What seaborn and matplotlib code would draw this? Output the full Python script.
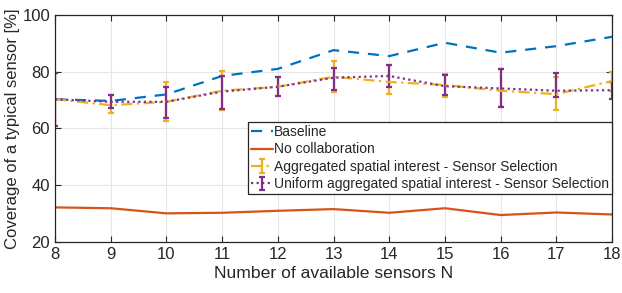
import numpy as np
import pandas as pd
import seaborn as sns
import matplotlib.pyplot as plt

# Data
n_sensors = [8, 9, 10, 11, 12, 13, 14, 15, 16, 17, 18]
baseline = [70.3, 69.7, 72.0, 78.5, 81.0, 87.6, 85.5, 90.2, 86.7, 89.0, 92.3]
no_collab = [32.2, 31.9, 30.1, 30.3, 31.0, 31.6, 30.3, 31.9, 29.5, 30.4, 29.7]

agg_mean = [70.3, 68.2, 69.4, 73.3, 74.7, 78.2, 76.4, 75.3, 73.3, 72.1, 76.7]
agg_low = [60.8, 65.3, 62.7, 66.5, 71.6, 72.9, 72.1, 71.2, 67.4, 66.5, 73.3]
agg_high = [79.4, 71.7, 76.2, 80.3, 78.2, 83.8, 82.3, 79.2, 80.9, 78.0, 80.0]

uni_mean = [70.3, 69.4, 69.4, 73.0, 74.7, 77.9, 78.5, 74.9, 74.1, 73.3, 73.5]
uni_low = [60.8, 67.1, 63.6, 66.7, 71.6, 73.5, 74.5, 71.8, 67.4, 71.2, 70.5]
uni_high = [79.4, 71.7, 74.7, 78.6, 78.2, 81.4, 82.3, 78.8, 80.9, 79.5, 76.2]

labels = ['Baseline', 'No collaboration',
          'Aggregated spatial interest - Sensor Selection',
          'Uniform aggregated spatial interest - Sensor Selection']
colors = ['#0072BD', '#D95319', '#EDB120', '#7E2F8E']

sns.set_style('whitegrid')
plt.rcParams['font.family'] = ['Liberation Sans', 'DejaVu Sans']

fig, ax = plt.subplots(figsize=(6.22, 2.93), dpi=100)
fig.subplots_adjust(left=0.0884, right=0.984, top=0.949, bottom=0.174)

df = pd.DataFrame({'N': n_sensors, 'Baseline': baseline, 'No collaboration': no_collab})
sns.lineplot(data=df, x='N', y='Baseline', ax=ax, color=colors[0], lw=1.6,
             linestyle=(0, (5, 4)), label=labels[0])
sns.lineplot(data=df, x='N', y='No collaboration', ax=ax, color=colors[1], lw=1.6,
             label=labels[1])

# error bars (asymmetric)
for mean, lo, hi, c, ls, lab in [(agg_mean, agg_low, agg_high, colors[2], (0, (5, 2, 1, 2)), labels[2]),
                                 (uni_mean, uni_low, uni_high, colors[3], (0, (1, 1.5)), labels[3])]:
    mean = np.array(mean)
    yerr = [mean - np.array(lo), np.array(hi) - mean]
    eb = ax.errorbar(n_sensors, mean, yerr=yerr, color=c, lw=1.6, capsize=2.5,
                     elinewidth=1.6, capthick=1.6, label=lab)
    eb[-1][0].set_linestyle('-')
    eb[0].set_linestyle(ls)

ax.set_xlim(8, 18)
ax.set_ylim(20, 100)
ax.set_xticks(n_sensors)
ax.set_yticks([20, 40, 60, 80, 100])
ax.set_xlabel('Number of available sensors N', fontsize=12.6, color='#262626', labelpad=3)
ax.set_ylabel('Coverage of a typical sensor [%]', fontsize=12, color='#262626', labelpad=2)
ax.tick_params(labelsize=12, colors='#262626', direction='in', length=4,
               bottom=True, left=True, top=True, right=True)
ax.grid(True, color='#e6e6e6', lw=0.8)
for s in ax.spines.values():
    s.set_color('#262626')
    s.set_linewidth(0.9)

leg = ax.legend(loc='lower right', bbox_to_anchor=(1.0, 0.211), fontsize=10,
                frameon=True, fancybox=False, borderpad=0.2, labelspacing=0.25,
                handlelength=1.6, handletextpad=0.1, borderaxespad=0)
leg.get_frame().set_edgecolor('#262626')
leg.get_frame().set_linewidth(0.9)
leg.get_frame().set_alpha(1)

fig.savefig('out.png', dpi=100)
